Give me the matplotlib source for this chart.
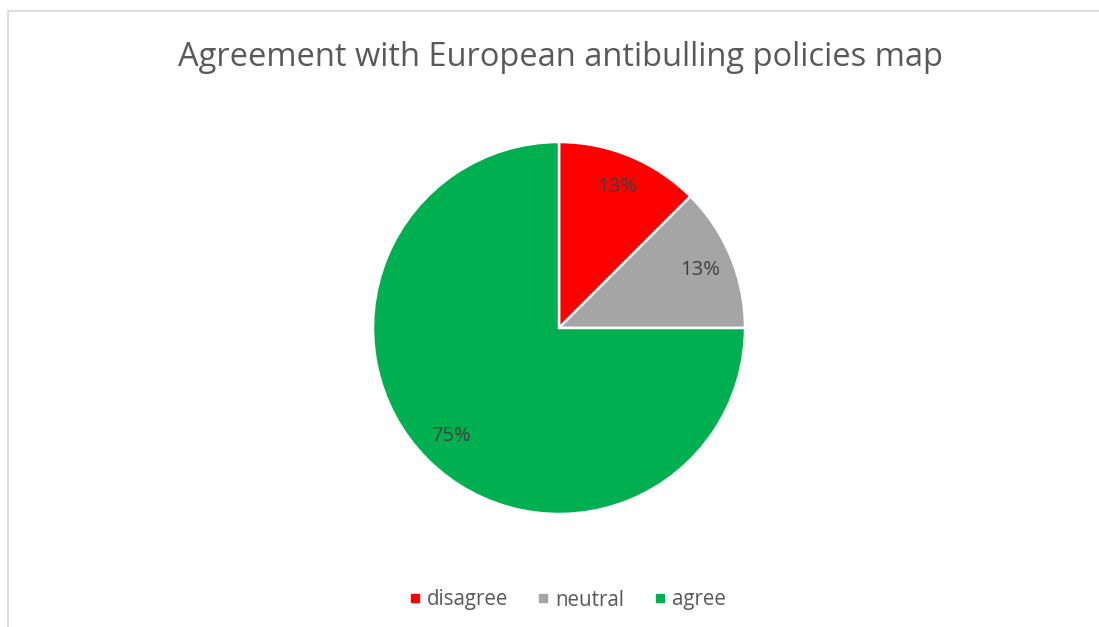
import matplotlib.pyplot as plt
from matplotlib.lines import Line2D

labels = ["disagree", "neutral", "agree"]
values = [12.5, 12.5, 75.0]
colors = ["#FF0000", "#A5A5A5", "#00B050"]

plt.rcParams["font.family"] = ["Open Sans", "DejaVu Sans"]

W, H = 1099, 627
fig = plt.figure(figsize=(W / 100, H / 100), dpi=100)

# chart border (only top and left edges visible in the crop)
fig.add_artist(Line2D([8 / W, 8 / W], [0, 1 - 11 / H], color="#D9D9D9", lw=1.2))
fig.add_artist(Line2D([8 / W, 1], [1 - 11 / H, 1 - 11 / H], color="#D9D9D9", lw=1.2))

fig.text(560 / W, 1 - 57 / H, "Agreement with European antibulling policies map",
         ha="center", va="center", fontsize=23.5, color="#595959")

cx, cy, r = 559, 328, 186
ax = fig.add_axes([(cx - r) / W, (H - cy - r) / H, 2 * r / W, 2 * r / H])
wedges, texts, autotexts = ax.pie(
    values, colors=colors, startangle=90, counterclock=False,
    autopct=lambda p: f"{p:.0f}%" if p != 12.5 else "13%",
    pctdistance=0.82,
    wedgeprops=dict(edgecolor="white", linewidth=1.8),
    textprops=dict(fontsize=14.5, color="#404040"),
)
ax.set_xlim(-1, 1)
ax.set_ylim(-1, 1)
ax.set_aspect("auto")
ax.axis("off")

handles = [Line2D([], [], marker="s", linestyle="", markersize=6,
                  markerfacecolor=c, markeredgecolor=c) for c in colors]
fig.legend(handles, labels, loc="center", bbox_to_anchor=(565 / W, 1 - 600 / H),
           ncol=3, frameon=False, fontsize=14.8, labelcolor="#595959",
           handletextpad=0.1, columnspacing=1.2, handlelength=1.0)

fig.savefig("out.png", dpi=100)
